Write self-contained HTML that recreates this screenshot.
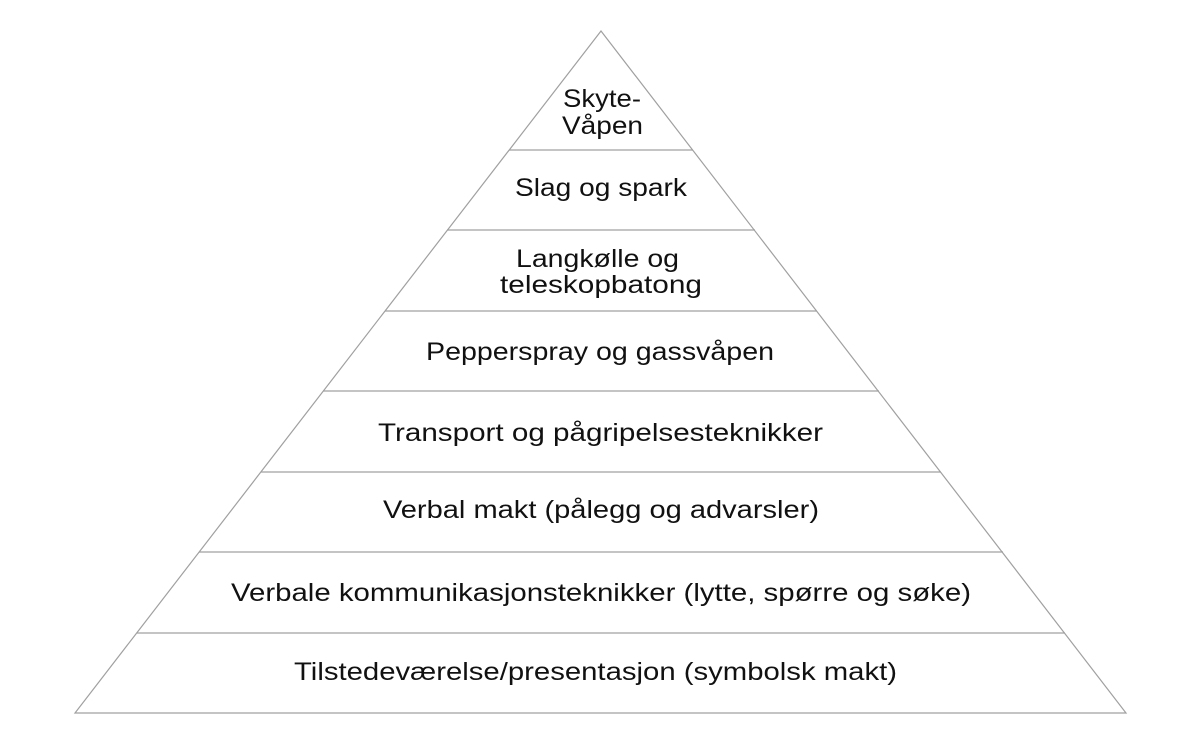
<!DOCTYPE html>
<html><head><meta charset="utf-8"><style>html,body{margin:0;padding:0;background:#fff}svg{display:block}</style></head>
<body>
<svg width="1200" height="741" viewBox="0 0 1200 741" xmlns="http://www.w3.org/2000/svg">
<g stroke="#a0a0a0" stroke-width="1.2" fill="none">
<polygon points="601,31 75,713 1126,713"/>
<line x1="509" y1="150" x2="693" y2="150"/>
<line x1="447" y1="230" x2="755" y2="230"/>
<line x1="385" y1="311" x2="817" y2="311"/>
<line x1="323" y1="391" x2="879" y2="391"/>
<line x1="261" y1="472" x2="941" y2="472"/>
<line x1="199" y1="552" x2="1003" y2="552"/>
<line x1="137" y1="633" x2="1065" y2="633"/>
</g>
<g font-family="Liberation Sans, sans-serif" font-size="25" fill="#111" lengthAdjust="spacingAndGlyphs">
<text x="563" y="107" textLength="78" lengthAdjust="spacingAndGlyphs">Skyte-</text>
<text x="562" y="134" textLength="81" lengthAdjust="spacingAndGlyphs">Våpen</text>
<text x="515" y="196" textLength="172" lengthAdjust="spacingAndGlyphs">Slag og spark</text>
<text x="516" y="267" textLength="163" lengthAdjust="spacingAndGlyphs">Langkølle og</text>
<text x="500" y="293" textLength="202" lengthAdjust="spacingAndGlyphs">teleskopbatong</text>
<text x="426" y="360" textLength="348" lengthAdjust="spacingAndGlyphs">Pepperspray og gassvåpen</text>
<text x="378" y="441" textLength="445" lengthAdjust="spacingAndGlyphs">Transport og pågripelsesteknikker</text>
<text x="383" y="518" textLength="436" lengthAdjust="spacingAndGlyphs">Verbal makt (pålegg og advarsler)</text>
<text x="231" y="601" textLength="740" lengthAdjust="spacingAndGlyphs">Verbale kommunikasjonsteknikker (lytte, spørre og søke)</text>
<text x="294" y="680" textLength="603" lengthAdjust="spacingAndGlyphs">Tilstedeværelse/presentasjon (symbolsk makt)</text>
</g>
</svg>
</body></html>
